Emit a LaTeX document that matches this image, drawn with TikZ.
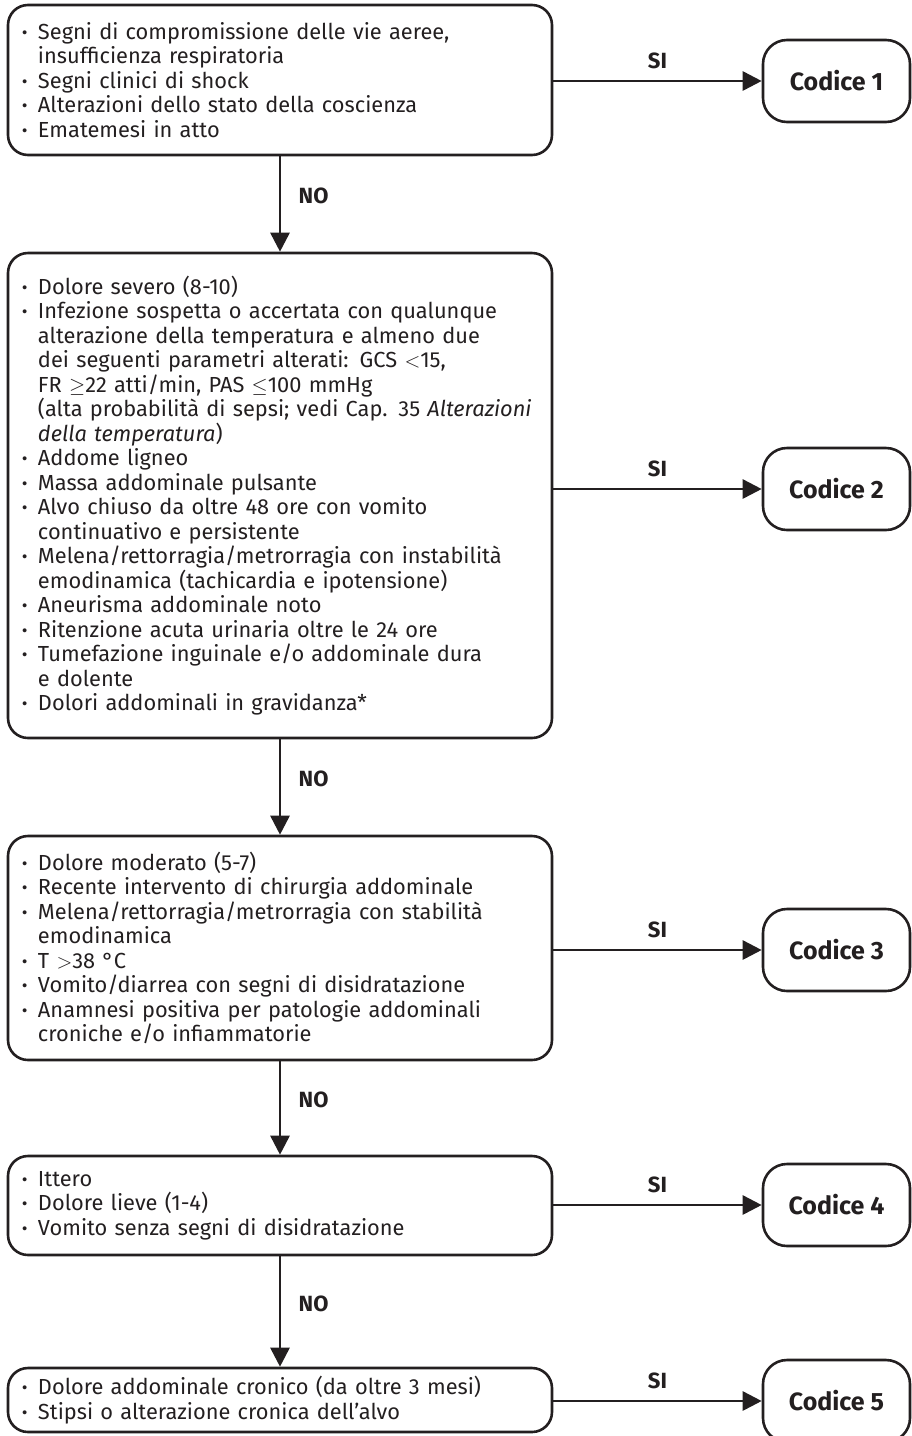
\documentclass[tikz,border=0pt]{standalone}
\usepackage{fontspec}
\setmainfont{Fira Sans}
\usepackage{xcolor}
\usetikzlibrary{arrows.meta,positioning}

\definecolor{linea}{HTML}{231F20}
\newcommand{\pun}[1]{\makebox[19pt][l]{\hspace*{3pt}{\bfseries ·}}\mbox{#1}}
\newcommand{\seg}[1]{\hspace*{19pt}\mbox{#1}}

\tikzset{
  voce/.style={draw=linea, line width=2.6pt, rounded corners=20pt, minimum width=544pt,
    inner xsep=11pt, text width=522pt, align=left, text=linea,
    font=\fontsize{21.8}{24.5}\selectfont},
  codice/.style={draw=linea, line width=2.6pt, rounded corners=24pt, minimum width=147pt,
    minimum height=82pt, text=linea, font=\bfseries\fontsize{25}{28}\selectfont},
  freccia/.style={draw=linea, line width=2.7pt, -{Triangle[length=19pt,width=19pt]}},
  etichetta/.style={text=linea, font=\bfseries\fontsize{22}{26}\selectfont},
}

\begin{document}
\begin{tikzpicture}[x=1pt, y=-1pt]
  \useasboundingbox (0,0) rectangle (911,1436);

  % Riquadri dei criteri
  \node[voce, minimum height=150pt] (crit1) at (280,80) {%
    \pun{Segni di compromissione delle vie aeree,}\\
    \seg{insufficienza respiratoria}\\
    \pun{Segni clinici di shock}\\
    \pun{Alterazioni dello stato della coscienza}\\
    \pun{Ematemesi in atto}};
  \node[voce, minimum height=485pt] (crit2) at (280,495.5) {%
    \pun{Dolore severo (8-10)}\\
    \pun{Infezione sospetta o accertata con qualunque}\\
    \seg{alterazione della temperatura e almeno due}\\
    \seg{dei seguenti parametri alterati: GCS $<$15,}\\
    \seg{FR $\geq$22 atti/min, PAS $\leq$100 mmHg}\\
    \seg{(alta probabilità di sepsi; vedi Cap. 35 \textit{Alterazioni}}\\
    \seg{\textit{della temperatura})}\\
    \pun{Addome ligneo}\\
    \pun{Massa addominale pulsante}\\
    \pun{Alvo chiuso da oltre 48 ore con vomito}\\
    \seg{continuativo e persistente}\\
    \pun{Melena/rettorragia/metrorragia con instabilità}\\
    \seg{emodinamica (tachicardia e ipotensione)}\\
    \pun{Aneurisma addominale noto}\\
    \pun{Ritenzione acuta urinaria oltre le 24 ore}\\
    \pun{Tumefazione inguinale e/o addominale dura}\\
    \seg{e dolente}\\
    \pun{Dolori addominali in gravidanza*}};
  \node[voce, minimum height=224pt] (crit3) at (280,948) {%
    \pun{Dolore moderato (5-7)}\\
    \pun{Recente intervento di chirurgia addominale}\\
    \pun{Melena/rettorragia/metrorragia con stabilità}\\
    \seg{emodinamica}\\
    \pun{T $>$38 °C}\\
    \pun{Vomito/diarrea con segni di disidratazione}\\
    \pun{Anamnesi positiva per patologie addominali}\\
    \seg{croniche e/o infiammatorie}};
  \node[voce, minimum height=99pt] (crit4) at (280,1205.5) {%
    \pun{Ittero}\\
    \pun{Dolore lieve (1-4)}\\
    \pun{Vomito senza segni di disidratazione}};
  \node[voce, minimum height=64pt] (crit5) at (280,1400) {%
    \pun{Dolore addominale cronico (da oltre 3 mesi)}\\
    \pun{Stipsi o alterazione cronica dell’alvo}};

  % Codici
  \node[codice] (cod1) at (836.5,81) {Codice 1};
  \node[codice] (cod2) at (836.5,489) {Codice 2};
  \node[codice] (cod3) at (836.5,950) {Codice 3};
  \node[codice] (cod4) at (836.5,1205) {Codice 4};
  \node[codice] (cod5) at (836.5,1401) {Codice 5};

  % Frecce SI
  \foreach \i in {1,...,5}
    \draw[freccia] (crit\i.east |- cod\i.west) -- (cod\i.west)
      node[midway, above=7pt, etichetta] {SI};

  % Frecce NO
  \foreach \i/\j in {1/2,2/3,3/4,4/5}
    \draw[freccia] (crit\i.south) -- (crit\j.north)
      node[midway, right=14pt, yshift=8pt, etichetta] {NO};
\end{tikzpicture}
\end{document}
